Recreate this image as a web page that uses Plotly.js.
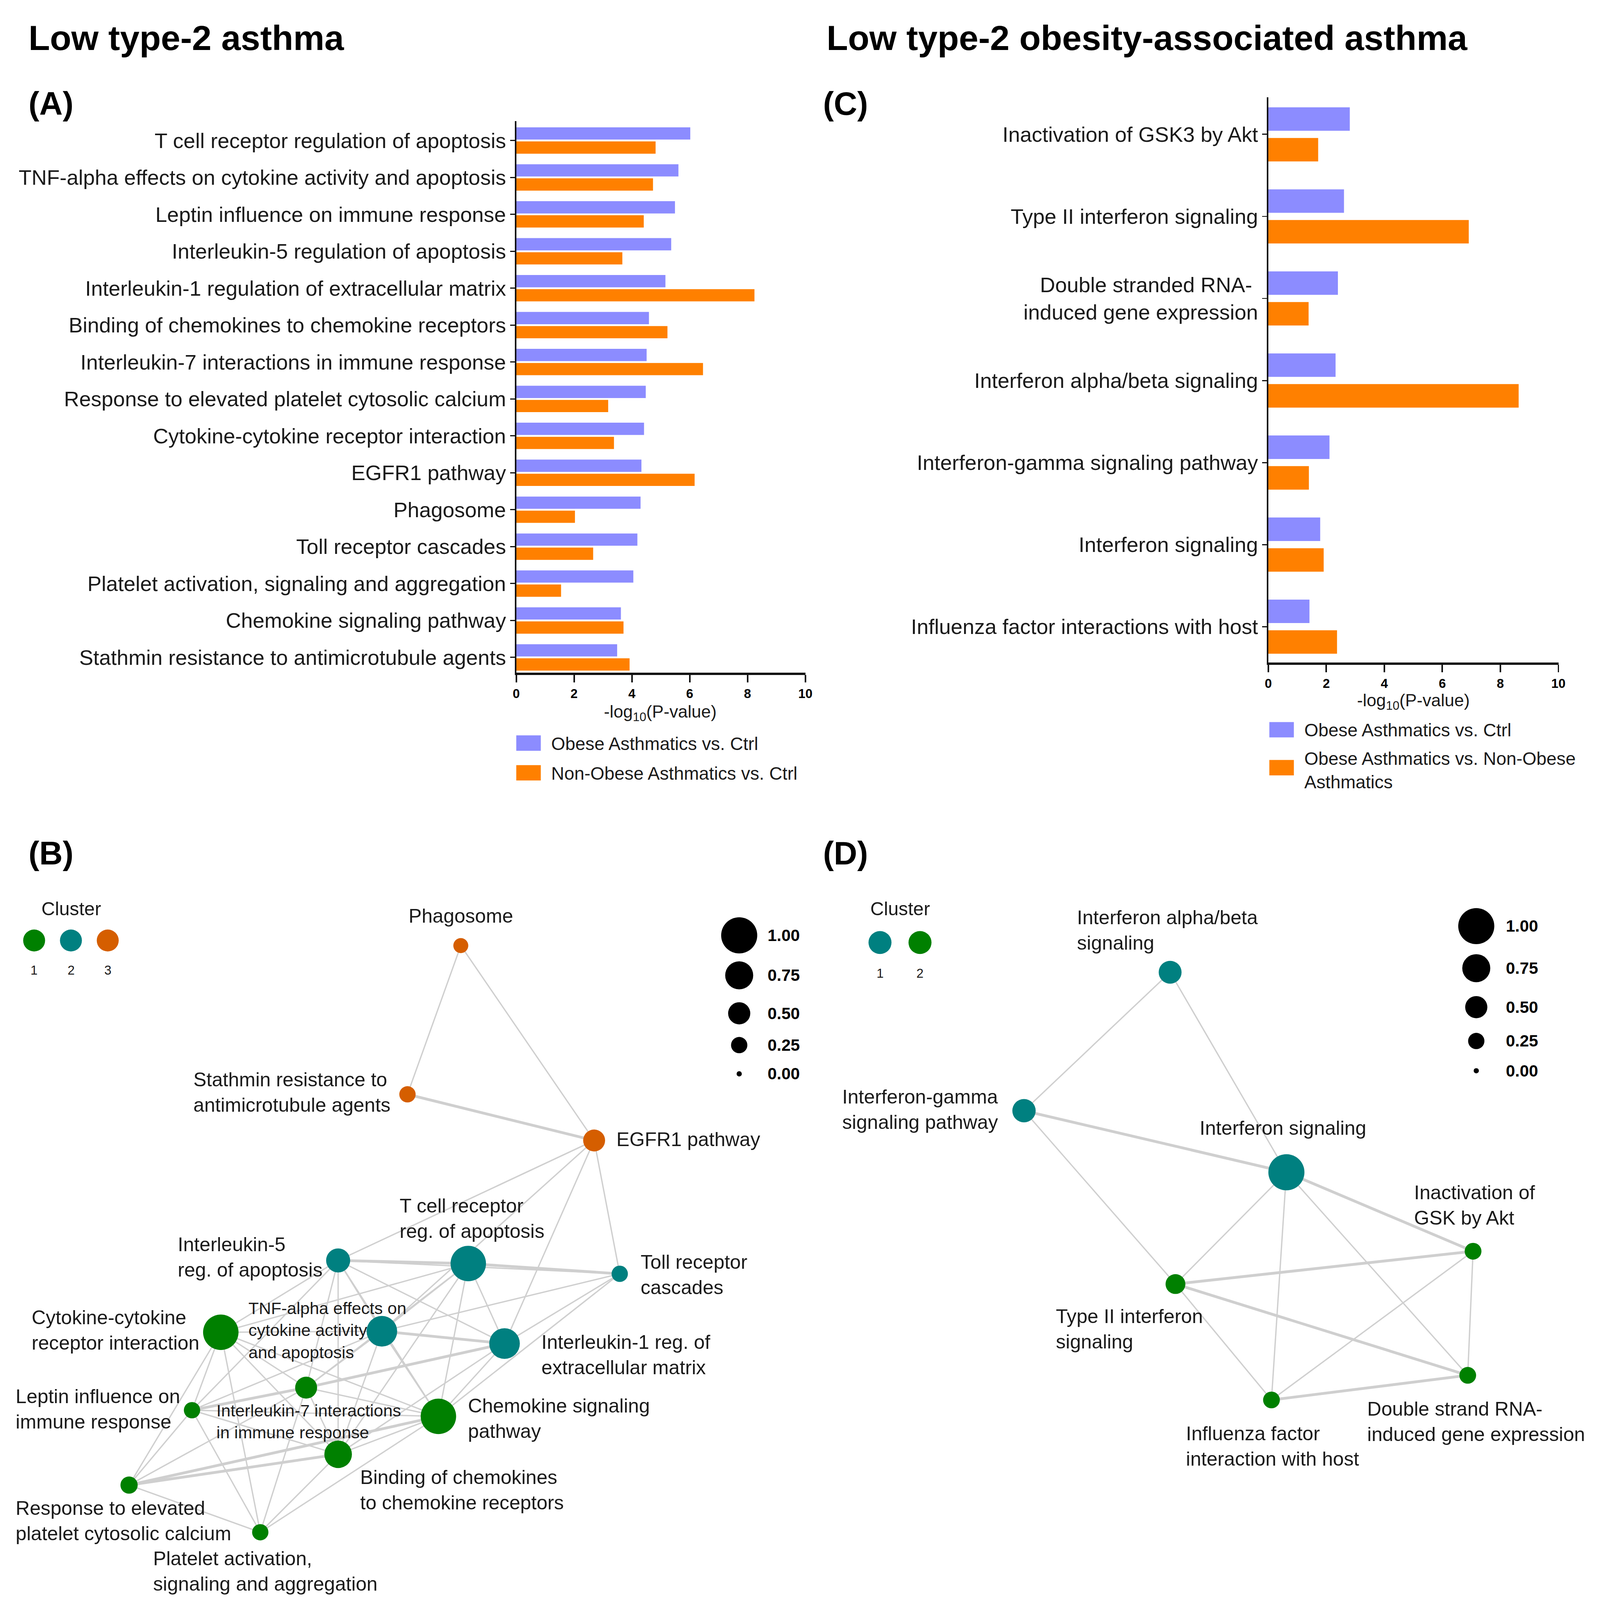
<!DOCTYPE html>
<html><head><meta charset="utf-8">
<script src="https://cdn.plot.ly/plotly-3.0.1.min.js"></script>
<style>html,body{margin:0;padding:0;background:#fff;overflow:hidden}#chart{position:absolute;left:0;top:0}</style>
</head><body><div id="chart"></div>
<script>
// ================= DATA =================
// Panel A: Low type-2 asthma
const catsA = [
  "T cell receptor regulation of apoptosis",
  "TNF-alpha effects on cytokine activity and apoptosis",
  "Leptin influence on immune response",
  "Interleukin-5 regulation of apoptosis",
  "Interleukin-1 regulation of extracellular matrix",
  "Binding of chemokines to chemokine receptors",
  "Interleukin-7 interactions in immune response",
  "Response to elevated platelet cytosolic calcium",
  "Cytokine-cytokine receptor interaction",
  "EGFR1 pathway",
  "Phagosome",
  "Toll receptor cascades",
  "Platelet activation, signaling and aggregation",
  "Chemokine signaling pathway",
  "Stathmin resistance to antimicrotubule agents"
];
const obeseVsCtrlA    = [6.02,5.61,5.49,5.36,5.16,4.59,4.51,4.48,4.42,4.33,4.30,4.19,4.05,3.62,3.49];
const nonObeseVsCtrlA = [4.82,4.73,4.41,3.67,8.24,5.23,6.46,3.18,3.38,6.17,2.03,2.66,1.55,3.71,3.92];
const seriesNamesA = ["Obese Asthmatics vs. Ctrl", "Non-Obese Asthmatics vs. Ctrl"];

// Panel C: Low type-2 obesity-associated asthma
const catsC = [
  "Inactivation of GSK3 by Akt",
  "Type II interferon signaling",
  "Double stranded RNA- <br>induced gene expression",
  "Interferon alpha/beta signaling",
  "Interferon-gamma signaling pathway",
  "Interferon signaling",
  "Influenza factor interactions with host"
];
const obeseVsCtrlC     = [2.81,2.61,2.40,2.32,2.11,1.79,1.42];
const obeseVsNonObeseC = [1.72,6.91,1.39,8.63,1.40,1.91,2.37];
const seriesNamesC = ["Obese Asthmatics vs. Ctrl", "Obese Asthmatics vs. Non-Obese<br>Asthmatics"];

const xTickVals = [0,2,4,6,8,10];
const xAxisTitle = "-log<sub>10</sub>(P-value)";

// Panel B network (node layout coordinates, cluster, relative size 0-1)
const nodeNamesB = [
  "Phagosome",
  "Stathmin resistance to<br>antimicrotubule agents",
  "EGFR1 pathway",
  "T cell receptor<br>reg. of apoptosis",
  "Interleukin-5<br>reg. of apoptosis",
  "Toll receptor<br>cascades",
  "Cytokine-cytokine<br>receptor interaction",
  "TNF-alpha effects on<br>cytokine activity<br>and apoptosis",
  "Interleukin-1 reg. of<br>extracellular matrix",
  "Interleukin-7 interactions<br>in immune response",
  "Leptin influence on<br>immune response",
  "Chemokine signaling<br>pathway",
  "Binding of chemokines<br>to chemokine receptors",
  "Response to elevated<br>platelet cytosolic calcium",
  "Platelet activation,<br>signaling and aggregation"
];
const nodeXB = [432,382,557,439,317,581,207,358,473,287,180,411,317,121,244];
const nodeYB = [922,1067,1112,1232,1229,1242,1299,1298,1310,1353,1375,1381,1418,1448,1494];
const clusterB = [3,3,3,2,2,2,1,2,2,1,1,1,1,1,1];
const sizeB = [0.22,0.25,0.49,0.98,0.58,0.25,0.98,0.83,0.83,0.49,0.25,0.98,0.73,0.29,0.25];
// edges: [from, to, weight]
const edgesB = [
  [0,1,1],[0,2,1],[1,2,2],[2,4,1],[2,7,1],[2,8,1],[2,5,1],
  [4,3,2],[4,5,1],[3,5,2],[4,6,1],[4,7,1],[4,9,1],[4,11,1],[4,8,1],[4,12,1],[4,10,1],
  [3,7,1],[3,6,1],[3,8,1],[3,11,1],[3,9,1],[3,12,1],
  [5,7,1],[5,8,1],[5,11,1],
  [7,8,2],[7,6,1],[7,9,1],[7,10,1],[7,11,1],[7,12,1],
  [6,9,1],[6,10,1],[6,11,1],[6,12,1],[6,13,1],[6,14,1],
  [8,11,1],[8,12,1],[9,8,2],
  [10,9,2],[9,11,1],[9,12,1],[9,13,1],[9,14,1],
  [10,11,1],[10,12,1],[10,13,1],[10,14,1],
  [11,12,1],[11,13,2],[11,14,1],
  [12,13,2],[12,14,1],[13,14,1]
];

// Panel D network
const nodeNamesD = [
  "Interferon alpha/beta<br>signaling",
  "Interferon-gamma<br>signaling pathway",
  "Interferon signaling",
  "Inactivation of<br>GSK by Akt",
  "Type II interferon<br>signaling",
  "Influenza factor<br>interaction with host",
  "Double strand RNA-<br>induced gene expression"
];
const nodeXD = [1097,960,1206,1381,1102,1192,1376];
const nodeYD = [948,1083,1143,1220,1252,1365,1341];
const clusterD = [1,1,1,2,2,2,2];
const sizeD = [0.53,0.55,1.00,0.27,0.40,0.27,0.27];
const edgesD = [
  [0,1,1],[0,2,1],[1,2,2],[1,4,1],[2,4,1],[2,5,1],[2,6,1],[2,3,2],
  [4,3,2],[4,6,2],[4,5,1],[5,3,1],[5,6,2],[3,6,1]
];

// size legend values
const sizeLegendVals = [1.00,0.75,0.50,0.25,0.00];

// ================= STYLE / LAYOUT HELPERS =================
const REF_W = 4246, REF_H = 4416;
const W = Math.min(window.innerWidth || REF_W, REF_W);
const H = Math.min(window.innerHeight || REF_H, REF_H);
const sx = W/REF_W, sy = H/REF_H;
const kT = Math.min(sx, sy*1.04);               // text scale
const kM = Math.sqrt(sx*sy);                    // marker scale
const S = REF_W/1500;                            // layout unit -> px at reference size
const px = d => d/1500;                          // layout x -> paper
const py = d => 1 - d/(REF_H/S);                 // layout y -> paper
const fs = v => v*kT;
const ms = v => v*kM;
const FONT = "Liberation Sans, Arial, Helvetica, sans-serif";
const TXT = "#1a1a1a";
const BLUE = "#8c8cff", ORANGE = "#ff8000";
const clusterColB = {1:"#008000", 2:"#008080", 3:"#d55e00"};
const clusterColD = {1:"#008080", 2:"#008000"};
const EDGE = "#cfcfcf";
const sizeStops = [0,0.25,0.5,0.75,1], diamStops = [5,15.6,21.2,26.8,34.5];
function diam(v){
  for (let i=1;i<sizeStops.length;i++){
    if (v<=sizeStops[i]){
      const t=(v-sizeStops[i-1])/(sizeStops[i]-sizeStops[i-1]);
      return diamStops[i-1]+t*(diamStops[i]-diamStops[i-1]);
    }
  }
  return diamStops[diamStops.length-1];
}
const chartDiv = document.getElementById("chart");
chartDiv.style.width = W+"px"; chartDiv.style.height = H+"px";

const traces = [];
// ----- Bars A -----
traces.push({type:"bar", orientation:"h", x:obeseVsCtrlA, y:catsA, name:seriesNamesA[0],
  xaxis:"x", yaxis:"y", marker:{color:BLUE, line:{width:0}}, width:0.332, offset:-0.357, hoverinfo:"skip"});
traces.push({type:"bar", orientation:"h", x:nonObeseVsCtrlA, y:catsA, name:seriesNamesA[1],
  xaxis:"x", yaxis:"y", marker:{color:ORANGE, line:{width:0}}, width:0.332, offset:0.025, hoverinfo:"skip"});
// ----- Bars C -----
traces.push({type:"bar", orientation:"h", x:obeseVsCtrlC, y:catsC, name:seriesNamesC[0],
  xaxis:"x2", yaxis:"y2", marker:{color:BLUE, line:{width:0}}, width:0.286, offset:-0.33, hoverinfo:"skip"});
traces.push({type:"bar", orientation:"h", x:obeseVsNonObeseC, y:catsC, name:seriesNamesC[1],
  xaxis:"x2", yaxis:"y2", marker:{color:ORANGE, line:{width:0}}, width:0.286, offset:0.044, hoverinfo:"skip"});

// ----- Networks -----
function edgeTraces(nx, ny, edges, xa, ya){
  const out=[];
  [1,2].forEach(w=>{
    const ex=[], ey=[];
    edges.filter(e=>e[2]===w).forEach(e=>{ ex.push(nx[e[0]],nx[e[1]],null); ey.push(ny[e[0]],ny[e[1]],null); });
    out.push({type:"scatter", mode:"lines", x:ex, y:ey, xaxis:xa, yaxis:ya,
      line:{color:EDGE, width: ms(w===1?3.6:7.5)}, hoverinfo:"skip", showlegend:false});
  });
  return out;
}
function nodeTrace(nx, ny, cl, sz, colMap, xa, ya){
  return {type:"scatter", mode:"markers", x:nx, y:ny, xaxis:xa, yaxis:ya,
    marker:{color:cl.map(c=>colMap[c]), size:sz.map(v=>ms(diam(v)*S)), line:{width:0}, opacity:1},
    hoverinfo:"skip", showlegend:false};
}
traces.push(...edgeTraces(nodeXB,nodeYB,edgesB,"x3","y3"));
traces.push(nodeTrace(nodeXB,nodeYB,clusterB,sizeB,clusterColB,"x3","y3"));
traces.push(...edgeTraces(nodeXD,nodeYD,edgesD,"x4","y4"));
traces.push(nodeTrace(nodeXD,nodeYD,clusterD,sizeD,clusterColD,"x4","y4"));

// cluster legends (decoration)
const clusterIdsB = [1,2,3], clusterIdsD = [1,2];
const clLegB = {x0:32, dx:34.5, y:917, ylab:946, title:[67,886]};
const clLegD = {x0:825, dx:37.5, y:919, ylab:949, title:[844,886]};
traces.push({type:"scatter", mode:"markers", xaxis:"x3", yaxis:"y3",
  x:clusterIdsB.map((c,i)=>clLegB.x0+i*clLegB.dx), y:clusterIdsB.map(()=>clLegB.y),
  marker:{color:clusterIdsB.map(c=>clusterColB[c]), size:ms(21*S), line:{width:0}, opacity:1}, hoverinfo:"skip", showlegend:false});
traces.push({type:"scatter", mode:"markers", xaxis:"x4", yaxis:"y4",
  x:clusterIdsD.map((c,i)=>clLegD.x0+i*clLegD.dx), y:clusterIdsD.map(()=>clLegD.y),
  marker:{color:clusterIdsD.map(c=>clusterColD[c]), size:ms(22*S), line:{width:0}, opacity:1}, hoverinfo:"skip", showlegend:false});
// size legends (decoration)
const sizeLegB = {x:693, ys:[912,951,988,1019,1047], xlab:719};
const sizeLegD = {x:1384, ys:[903,944,982,1015,1044], xlab:1411};
[[sizeLegB,"x3","y3"],[sizeLegD,"x4","y4"]].forEach(([L,xa,ya])=>{
  traces.push({type:"scatter", mode:"markers", xaxis:xa, yaxis:ya,
    x:sizeLegendVals.map(()=>L.x), y:L.ys,
    marker:{color:"#000000", size:sizeLegendVals.map(v=>ms(diam(v)*S)), line:{width:0}, opacity:1},
    hoverinfo:"skip", showlegend:false});
});

// ----- annotations -----
const ann = [];
function txt(x,y,text,size,opts={}){
  ann.push(Object.assign({x:x, y:y, xref:"paper", yref:"paper", text:text, showarrow:false,
    xanchor:"left", yanchor:"middle", align:"left",
    font:{family:FONT, size:fs(size), color:TXT}}, opts));
}
const boldFont = s => ({family:FONT, size:fs(s), color:"#000", weight:"bold"});
// headers
txt(px(26), py(37), "Low type-2 asthma", 93, {font:boldFont(93)});
txt(px(774), py(37), "Low type-2 obesity-associated asthma", 93, {font:boldFont(93)});
[["(A)",26,101],["(C)",771,101],["(B)",26,832],["(D)",771,832]].forEach(([t,x,y])=>
  txt(px(x), py(y), t, 86, {font:boldFont(86)}));
// axis titles
txt(px(619), py(695), xAxisTitle, 46, {xanchor:"center", align:"center"});
txt(px(1325), py(684), xAxisTitle, 46, {xanchor:"center", align:"center"});
// bar legends
const shapes = [];
function swatch(x0,x1,y0,y1,col){
  shapes.push({type:"rect", xref:"paper", yref:"paper", x0:px(x0), x1:px(x1), y0:py(y1), y1:py(y0),
    fillcolor:col, line:{width:0}});
}
swatch(484,507,717,732,BLUE);  txt(px(516), py(725), seriesNamesA[0], 48);
swatch(484,507,746,761,ORANGE); txt(px(516), py(754), seriesNamesA[1], 48);
swatch(1190,1213,704,719,BLUE);  txt(px(1222), py(712), seriesNamesC[0], 48);
swatch(1190,1213,741,756,ORANGE); txt(px(1222), py(751), seriesNamesC[1], 48);

// network labels: [x, y, xanchor, fontsize]
const labelPosB = [
  [432,893,"center",52],[367,1065,"right",52],[577,1111,"left",52],[374,1188,"left",52],
  [166,1226,"left",52],[600,1243,"left",52],[29,1297,"left",52],[232,1297,"left",45],
  [507,1321,"left",52],[202,1386,"left",45],[14,1374,"left",52],[438,1383,"left",52],
  [337,1453,"left",52],[14,1483,"left",52],[143,1532,"left",52]
];
const labelPosD = [
  [1009,907,"left",52],[789,1082,"left",52],[1124,1100,"left",52],[1325,1175,"left",52],
  [989,1296,"left",52],[1111,1410,"left",52],[1281,1386,"left",52]
];
function netLabels(names, pos, xa, ya){
  names.forEach((n,i)=>{
    const p = pos[i];
    ann.push({x:p[0], y:p[1], xref:xa, yref:ya, text:n, showarrow:false, xanchor:p[2], yanchor:"middle",
      align: p[2]==="center"?"center":"left", font:{family:FONT, size:fs(p[3]), color:TXT}});
  });
}
netLabels(nodeNamesB, labelPosB, "x3", "y3");
netLabels(nodeNamesD, labelPosD, "x4", "y4");
// cluster legend texts
[[clLegB,clusterIdsB,"x3","y3"],[clLegD,clusterIdsD,"x4","y4"]].forEach(([L,ids,xa,ya])=>{
  ann.push({x:L.title[0], y:L.title[1], xref:xa, yref:ya, text:"Cluster", showarrow:false,
    xanchor:"center", yanchor:"middle", font:{family:FONT,size:fs(50),color:TXT}});
  ids.forEach((c,i)=>ann.push({x:L.x0+i*L.dx, y:L.ylab, xref:xa, yref:ya, text:String(c), showarrow:false,
    xanchor:"center", yanchor:"middle", font:{family:FONT,size:fs(34),color:TXT}}));
});
// size legend texts
[[sizeLegB,"x3","y3"],[sizeLegD,"x4","y4"]].forEach(([L,xa,ya])=>{
  sizeLegendVals.forEach((v,i)=>ann.push({x:L.xlab, y:L.ys[i], xref:xa, yref:ya, text:v.toFixed(2),
    showarrow:false, xanchor:"left", yanchor:"middle", font:boldFont(44)}));
});

// ----- axes -----
const barX = (dom)=>({domain:dom, range:[0,10], tickvals:xTickVals, ticks:"outside", ticklen:fs(20), tickwidth:fs(4),
  tickcolor:"#111", showline:true, linewidth:fs(6), linecolor:"#111", showgrid:false, zeroline:false,
  fixedrange:true, tickfont:{family:FONT, size:fs(34), color:"#000", weight:"bold"}});
const barY = (dom, cats, rng)=>({domain:dom, type:"category", categoryorder:"array", categoryarray:cats,
  range:rng, ticks:"outside", ticklen:fs(12), tickwidth:fs(3), tickcolor:"#111", showline:true, linewidth:fs(4),
  linecolor:"#111", showgrid:false, zeroline:false, fixedrange:true,
  tickfont:{family:FONT, size:fs(56), color:TXT}});
const netX = (dom,rng)=>({domain:dom, range:rng, visible:false, fixedrange:true});
const netY = (dom,rng)=>({domain:dom, range:rng, visible:false, fixedrange:true});

const layout = {
  width:W, height:H, margin:{l:0,r:0,t:0,b:0}, paper_bgcolor:"#fff", plot_bgcolor:"rgba(0,0,0,0)",
  showlegend:false, barmode:"overlay", font:{family:FONT, color:TXT},
  xaxis: Object.assign(barX([px(484),px(755)]), {anchor:"y"}),
  yaxis: Object.assign(barY([py(656),py(118)], catsA, [14.417,-0.528]), {anchor:"x"}),
  xaxis2: Object.assign(barX([px(1189),px(1461)]), {anchor:"y2"}),
  yaxis2: Object.assign(barY([py(646),py(95)], catsC, [6.4375,-0.45]), {anchor:"x2"}),
  xaxis3: Object.assign(netX([0,px(760)],[0,760]), {anchor:"y3"}),
  yaxis3: Object.assign(netY([py(1560),py(850)],[1560,850]), {anchor:"x3"}),
  xaxis4: Object.assign(netX([px(760),1],[760,1500]), {anchor:"y4"}),
  yaxis4: Object.assign(netY([py(1560),py(850)],[1560,850]), {anchor:"x4"}),
  annotations: ann, shapes: shapes
};
Plotly.newPlot("chart", traces, layout, {staticPlot:true, displayModeBar:false});
</script></body></html>
